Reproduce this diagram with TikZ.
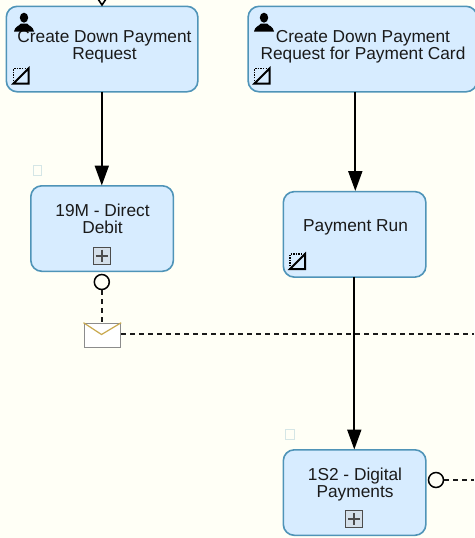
\documentclass[tikz,border=0pt]{standalone}
\usepackage{fontspec}
\setmainfont{Liberation Sans}
\usetikzlibrary{arrows.meta}
\definecolor{bgc}{HTML}{FFFFF6}
\definecolor{taskfill}{HTML}{D7ECFF}
\definecolor{taskline}{HTML}{4F94B8}
\definecolor{txt}{HTML}{1A1A1A}
\definecolor{mailgold}{HTML}{C9A94F}
\definecolor{paleq}{HTML}{D5E6E6}
\tikzset{
  x=1pt,y=-1pt,
  taskbox/.style={draw=taskline,line width=1.6pt,fill=taskfill,rounded corners=11pt,minimum width=#1,minimum height=85.5pt,inner sep=0pt},
  tasktext/.style={font=\fontsize{17.3}{17}\selectfont,text=txt,align=center,inner sep=0pt},
  flow/.style={draw=black,line width=2pt,-{Triangle[length=20pt,width=14pt]}},
  assoc/.style={draw=txt,line width=1.7pt,dash pattern=on 4.5pt off 4.5pt},
  bevent/.style={circle,draw=black,line width=1.5pt,fill=bgc,minimum size=15pt,inner sep=0pt},
  paleq/.style={draw=paleq,line width=1pt,fill=bgc,minimum width=8.5pt,minimum height=10pt,inner sep=0pt},
  mailbox/.style={draw=gray!90,line width=1.7pt,fill=white,minimum width=36pt,minimum height=24pt,inner sep=0pt},
  plusbox/.style={draw=black!70,line width=1pt,fill=taskfill!75!gray!70,minimum size=17pt,inner sep=0pt},
}
\newcommand{\usericon}[2]{%
  \fill[black] (#1,#2) ++(0,-6.8) circle[x radius=4.2pt,y radius=5pt];
  \fill[black] (#1-10,#2+7) .. controls (#1-9.5,#2+2) and (#1-4,#2+1) .. (#1-3,#2-1) -- (#1+3,#2-1) .. controls (#1+4,#2+1) and (#1+9.5,#2+2) .. (#1+10,#2+7) -- cycle;}
\newcommand{\scripticon}[2]{%
  \draw[black,line width=2pt] (#1,#2+15) -- (#1+15,#2+15) -- (#1+15,#2) -- cycle;
  \draw[black,line width=1.8pt,dash pattern=on 1.4pt off 1.2pt] (#1,#2+15) -- (#1,#2) -- (#1+15,#2);}
\newcommand{\plusmark}[2]{%
  \draw[black!70,line width=2pt] (#1-6,#2) -- (#1+6,#2) (#1,#2-6) -- (#1,#2+6);}
\begin{document}
\begin{tikzpicture}
\useasboundingbox[fill=bgc] (0,0) rectangle (474,538);
% boxes
\node[taskbox=191.6pt,anchor=north west] (a) at (5.5,5.5) {};
\node[taskbox=229pt,anchor=north west] (b) at (247.3,5.5) {};
\node[taskbox=142.6pt,anchor=north west] (c) at (30,185) {};
\node[taskbox=142.6pt,anchor=north west] (d) at (282.5,190.8) {};
\node[taskbox=142.6pt,anchor=north west] (e) at (282.5,449) {};
% texts
\node[tasktext] (ta) at (104.5,46.5) {Create Down Payment\\Request};
\node[tasktext] (tb) at (363,46.5) {Create Down Payment\\Request for Payment Card};
\node[tasktext] (tc) at (102.5,219) {19M - Direct\\Debit};
\node[tasktext] (td) at (355.5,227) {Payment Run};
\node[tasktext] (te) at (355,484.5) {1S2 - Digital\\Payments};
% icons
\usericon{24}{24.5}
\usericon{264}{24.5}
\scripticon{13.5}{68.5}
\scripticon{254.5}{68.5}
\scripticon{290}{254}
\node[plusbox] (pc) at (101.8,255.5) {};
\plusmark{101.8}{255.5}
\node[plusbox] (pe) at (354.3,519) {};
\plusmark{354.3}{519}
\node[paleq] (qc) at (37.5,170.5) {};
\node[paleq] (qe) at (290,434.5) {};
% connectors
\draw[line width=1.6pt] (98,-1) -- (102,5) -- (106,-1);
\coordinate (a1) at (101.8,91.5);
\coordinate (c1) at (101.8,185.5);
\draw[flow] (a1) -- (c1);
\coordinate (b1) at (355.3,91.5);
\coordinate (d0) at (355.3,191);
\draw[flow] (b1) -- (d0);
\coordinate (d1) at (354.3,276.5);
\coordinate (e1) at (354.3,449.5);
\draw[flow] (d1) -- (e1);
% events
\node[bevent] (evc) at (101.8,282) {};
\node[mailbox,anchor=north west] (mail) at (83.5,322.7) {};
\draw[mailgold,line width=1.2pt] (mail.north west) -- (101.5,334.5) -- (mail.north east);
\draw[assoc] (evc) -- (evc |- mail.north);
\coordinate (r1) at (474,334);
\draw[assoc] (mail.east |- r1) -- (r1);
\node[bevent] (eve) at (436,480) {};
\coordinate (r2) at (474,480);
\draw[assoc] (eve) -- (r2);
\end{tikzpicture}
\end{document}
